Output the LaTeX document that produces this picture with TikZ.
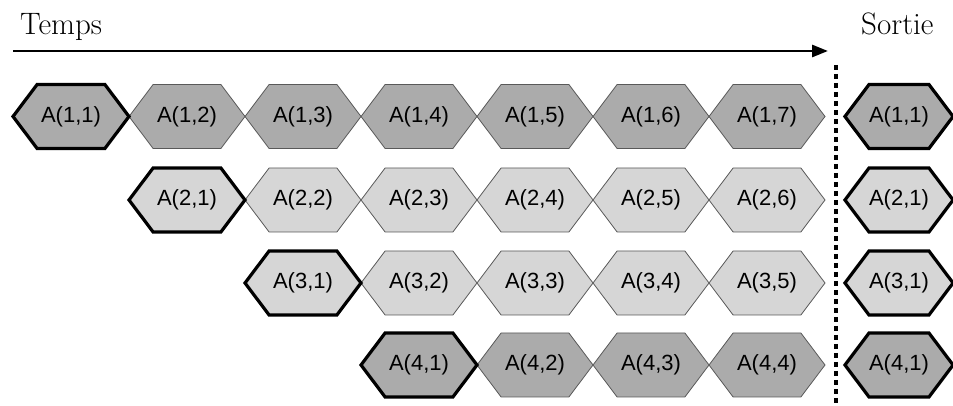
\documentclass[tikz,border=0pt]{standalone}
\usepackage{fontspec}
\newfontfamily\hexfont{Liberation Sans}
\usetikzlibrary{shapes.symbols,arrows.meta}

\begin{document}
\begin{tikzpicture}[x=1pt,y=1pt,
    hexbox/.style={shape=signal,signal to=west and east,signal pointer angle=106,
        minimum width=116pt,minimum height=64pt,inner sep=0pt,
        draw=gray!70!black,line width=0.8pt,font=\hexfont\fontsize{22}{22}\selectfont},
    firstbox/.style={hexbox,draw=black,line width=3.2pt},
    outbox/.style={firstbox,minimum width=108pt},
    darkfill/.style={fill=black!33},
    lightfill/.style={fill=black!16},
    title/.style={font=\fontsize{31}{31}\selectfont,anchor=base west,inner sep=0pt}]
        \useasboundingbox (0,0) rectangle (953,406);
        \clip (0,0) rectangle (953,406);
        % time axis
        \node[title] (temps) at (20,371) {Temps};
        \node[title] (sortie) at (861,371) {Sortie};
        \coordinate (tstart) at (13,355);
        \coordinate (tend) at (828,355);
        \draw[line width=2.8pt,-{Triangle[length=16pt,width=12pt]}] (tstart) -- (tend);
        % separator
        \coordinate (septop) at (836,341);
        \coordinate (sepbot) at (836,0);
        \draw[line width=3.2pt,dash pattern=on 5pt off 4pt] (septop) -- (sepbot);
        % rows of hexagons
        \foreach \r/\y/\f in {1/289.5/darkfill,2/206/lightfill,3/123/lightfill,4/41/darkfill} {
            \pgfmathtruncatemacro{\last}{8-\r}
            \foreach \c in {\last,...,1} {
                \ifnum\c=1
                    \node[firstbox,\f] (a-\r-\c) at ({71+116*(\r-1)+116*(\c-1)},\y) {A(\r,\c)};
                \else
                    \node[hexbox,\f] (a-\r-\c) at ({71+116*(\r-1)+116*(\c-1)},\y) {A(\r,\c)};
                \fi
            }
            \node[outbox,\f] (out-\r) at (899,\y) {A(\r,1)};
        }
    \end{tikzpicture}
\end{document}
